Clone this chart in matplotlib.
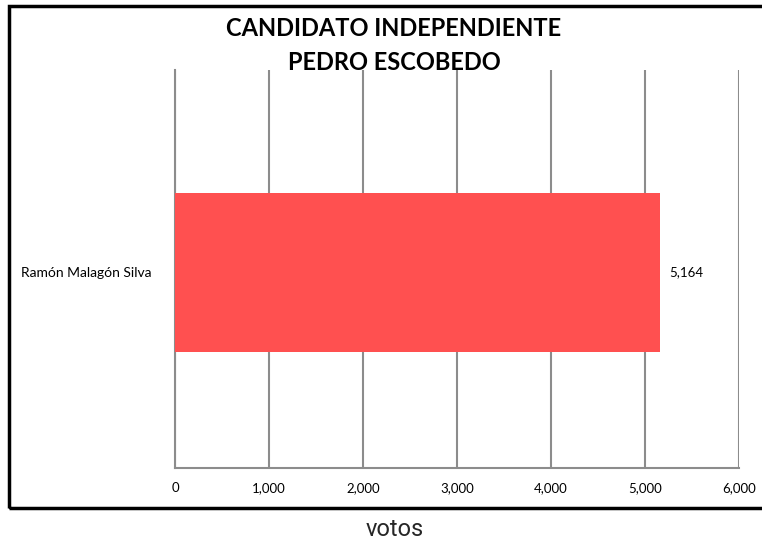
import matplotlib
matplotlib.use("Agg")
import matplotlib.pyplot as plt
from matplotlib.patches import Rectangle
from matplotlib.ticker import FuncFormatter

categories = ["Ramón Malagón Silva"]
votes = [5164]
xticks = [0, 1000, 2000, 3000, 4000, 5000, 6000]
title_lines = ["CANDIDATO INDEPENDIENTE", "PEDRO ESCOBEDO"]
xlabel = "votos"

W, H = 762, 546
fig = plt.figure(figsize=(W / 100, H / 100), dpi=100)
fig.patch.set_facecolor("white")

# outer frame
fig.patches.append(Rectangle((9 / W, 1 - 508 / H), 800 / W, (508 - 6) / H,
                             transform=fig.transFigure, fill=False,
                             edgecolor="black", linewidth=2.5, zorder=0))

ax = fig.add_axes([175 / W, 1 - 468 / H, (739 - 175) / W, (468 - 70) / H])
ax.barh(range(len(categories)), votes, height=0.4, color="#FF5050", zorder=3)
ax.set_ylim(-0.492, 0.508)
ax.set_xlim(0, 6000)
ax.set_xticks(xticks)
ax.xaxis.set_major_formatter(FuncFormatter(lambda v, p: f"{int(v):,}"))
ax.set_yticks(range(len(categories)))
ax.set_yticklabels(categories)
ax.grid(axis="x", color="#8c8c8c", linewidth=1.5, zorder=0)
for s in ["top", "right"]:
    ax.spines[s].set_visible(False)
ax.spines["left"].set_color("#8c8c8c")
ax.spines["left"].set_linewidth(1.5)
ax.spines["bottom"].set_color("#8c8c8c")
ax.spines["bottom"].set_linewidth(1.5)
ax.tick_params(axis="both", length=0, labelsize=9.5, labelcolor="black")
ax.tick_params(axis="x", pad=10)
ax.tick_params(axis="y", pad=17, labelsize=10)
for lab in ax.get_xticklabels() + ax.get_yticklabels():
    lab.set_fontfamily("Lato")

for i, v in enumerate(votes):
    ax.text(v + 95, i, f"{v:,}", va="center", ha="left", fontsize=9.5, family="Lato")

for k, line in enumerate(title_lines):
    fig.text(394 / W, 1 - (29 + 34 * k) / H, line, ha="center", va="center",
             fontsize=17, fontweight="bold", family="Lato")
fig.text(395 / W, 1 - 530 / H, xlabel, ha="center", va="center", fontsize=17,
         family="Roboto", color="#262626")

fig.savefig("out.png", dpi=100)
